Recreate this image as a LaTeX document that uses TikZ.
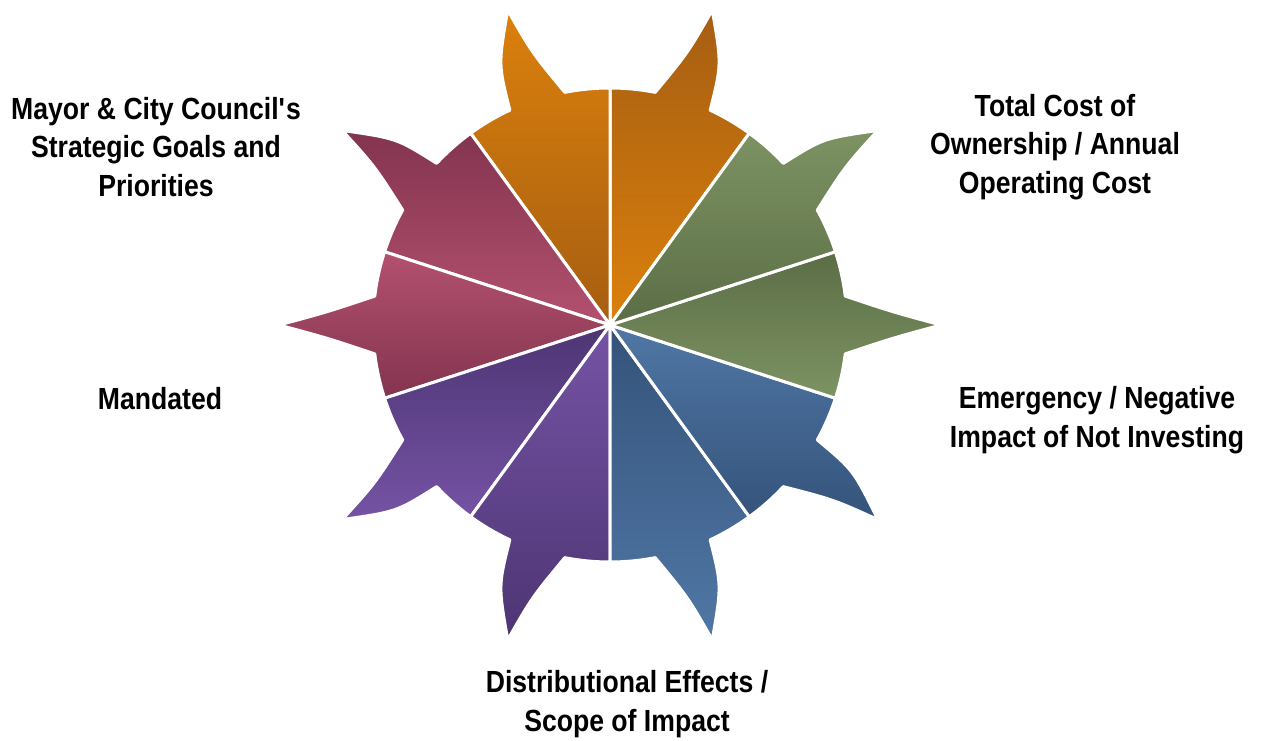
\documentclass[tikz,border=0pt]{standalone}
\usepackage{fontspec}
\setmainfont{Liberation Sans}[FakeStretch=0.87]
\usepackage{tikz}
\usetikzlibrary{positioning}

\definecolor{orangelight}{HTML}{DB800C}
\definecolor{orangedark}{HTML}{A65E12}
\definecolor{greenlight}{HTML}{7D9363}
\definecolor{greendark}{HTML}{5B6D46}
\definecolor{bluelight}{HTML}{5077A5}
\definecolor{bluedark}{HTML}{34537A}
\definecolor{purplelight}{HTML}{7553A5}
\definecolor{purpledark}{HTML}{4D3573}
\definecolor{roselight}{HTML}{B3516F}
\definecolor{rosedark}{HTML}{83344F}

% one slice of the wheel: start angle, bend of the two spike edges, top colour, bottom colour
\newcommand{\petal}[5]{%
\pgfmathsetmacro{\ptmid}{#1+18}%
\pgfmathsetmacro{\ptlo}{\ptmid-7}%
\pgfmathsetmacro{\pthi}{\ptmid+7}%
\pgfmathsetmacro{\ptca}{\ptmid-#2}%
\pgfmathsetmacro{\ptcb}{\ptmid+#3}%
\pgfmathsetmacro{\ptend}{#1+36}%
\path [petal,top color=#4,bottom color=#5] (0,0) -- (#1:4.74)
  arc[start angle=#1,end angle=\ptlo,radius=4.74]
  .. controls (\ptca:5.67) .. (\ptmid:6.62)
  .. controls (\ptcb:5.67) .. (\pthi:4.74)
  arc[start angle=\pthi,end angle=\ptend,radius=4.74] -- cycle;
}

\begin{document}
\begin{tikzpicture}
[petal/.style={draw=white,line width=0.06cm,line join=round},
 caption/.style={align=center,font=\bfseries\fontsize{17.4}{21.9}\selectfont}]
\useasboundingbox (0,0) rectangle (25.28,14.8);

\coordinate (hub) at (12.2,8.3);

\begin{scope}[shift={(hub)}]
\petal{54}{5.2}{2.0}{orangedark}{orangelight}
\petal{90}{2.0}{5.2}{orangelight}{orangedark}
\petal{126}{5.2}{2.0}{rosedark}{roselight}
\petal{162}{2.6}{2.6}{roselight}{rosedark}
\petal{198}{2.0}{5.2}{purpledark}{purplelight}
\petal{234}{5.2}{2.0}{purplelight}{purpledark}
\petal{270}{2.0}{5.2}{bluedark}{bluelight}
\petal{306}{2.0}{5.2}{bluelight}{bluedark}
\petal{342}{2.6}{2.6}{greendark}{greenlight}
\petal{18}{2.0}{5.2}{greenlight}{greendark}
\end{scope}

\node[caption] (goals) at (3.12,11.86) {Mayor \& City Council\textquotesingle s\\Strategic Goals and\\Priorities};
\node[caption] (cost) at (21.1,11.86) {Total Cost of\\Ownership / Annual\\Operating Cost};
\node[caption] (emergency) at (21.94,6.4) {Emergency / Negative\\Impact of Not Investing};
\node[caption] (mandated) at (3.2,6.82) {Mandated};
\node[caption] (scope) at (12.54,0.72) {Distributional Effects /\\Scope of Impact};
\end{tikzpicture}
\end{document}
